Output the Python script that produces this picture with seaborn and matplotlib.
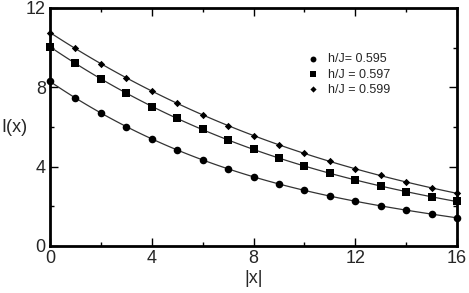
import numpy as np
import pandas as pd
import matplotlib
matplotlib.use("Agg")
import matplotlib.pyplot as plt
from matplotlib.ticker import MultipleLocator
import seaborn as sns

x_vals = list(range(17))
i_0595 = [8.32, 7.45, 6.69, 6.00, 5.40, 4.86, 4.34, 3.90, 3.50, 3.14, 2.81, 2.50, 2.25, 2.02, 1.80, 1.61, 1.43]
i_0597 = [10.05, 9.21, 8.42, 7.70, 7.03, 6.44, 5.88, 5.35, 4.87, 4.44, 4.03, 3.66, 3.33, 3.03, 2.74, 2.47, 2.25]
i_0599 = [10.76, 9.96, 9.19, 8.47, 7.83, 7.19, 6.61, 6.07, 5.56, 5.11, 4.67, 4.27, 3.88, 3.56, 3.23, 2.92, 2.66]
labels = ["h/J= 0.595", "h/J = 0.597", "h/J = 0.599"]
markers = ["o", "s", "D"]
msizes = [30, 32, 14]
leg_sizes = [18, 20, 10]
x_ticks = [0, 4, 8, 12, 16]
y_ticks = [0, 4, 8, 12]

sns.set_style("white")
plt.rcParams['font.family'] = ['Liberation Sans', 'DejaVu Sans']

fig = plt.figure(figsize=(4.69, 2.93), dpi=100)
ax = fig.add_axes([50/469, 1-246/293, 407/469, 238/293])

handles = []
for vals, lab, mk, ms, ls in zip([i_0595, i_0597, i_0599], labels, markers, msizes, leg_sizes):
    df = pd.DataFrame({"x": x_vals, "y": vals})
    sns.regplot(data=df, x="x", y="y", order=3, ci=None, scatter=False, truncate=True,
                line_kws=dict(color="#333333", lw=0.9), ax=ax)
    sns.scatterplot(data=df, x="x", y="y", marker=mk, s=ms, color="black",
                    edgecolor="black", linewidth=0, ax=ax, zorder=5, clip_on=False)
    h = ax.scatter([], [], marker=mk, s=ls, color="black", linewidth=0, label=lab)
    handles.append(h)

ax.set_xlim(0, 16)
ax.set_ylim(0, 12)
ax.set_xticks(x_ticks)
ax.set_yticks(y_ticks)
ax.xaxis.set_minor_locator(MultipleLocator(2))
ax.yaxis.set_minor_locator(MultipleLocator(2))
ax.tick_params(which="both", direction="in", top=True, right=True, bottom=True, left=True,
               labelsize=13, color="black", width=1)
ax.tick_params(which="major", length=6, pad=3)
ax.tick_params(which="minor", length=3)
for s in ax.spines.values():
    s.set_linewidth(2)
    s.set_color("black")
ax.set_xlabel("|x|", fontsize=13, labelpad=2)
ax.set_ylabel("I(x)", fontsize=13, rotation=0, ha="center", va="center")
ax.yaxis.set_label_coords(-0.088, 0.5)

ax.legend(handles=handles, loc="upper left", bbox_to_anchor=(0.615, 0.83), frameon=False,
          fontsize=9, handletextpad=0.6, labelspacing=0.25, borderaxespad=0, handlelength=1.2)

fig.savefig("out.png", dpi=100)
